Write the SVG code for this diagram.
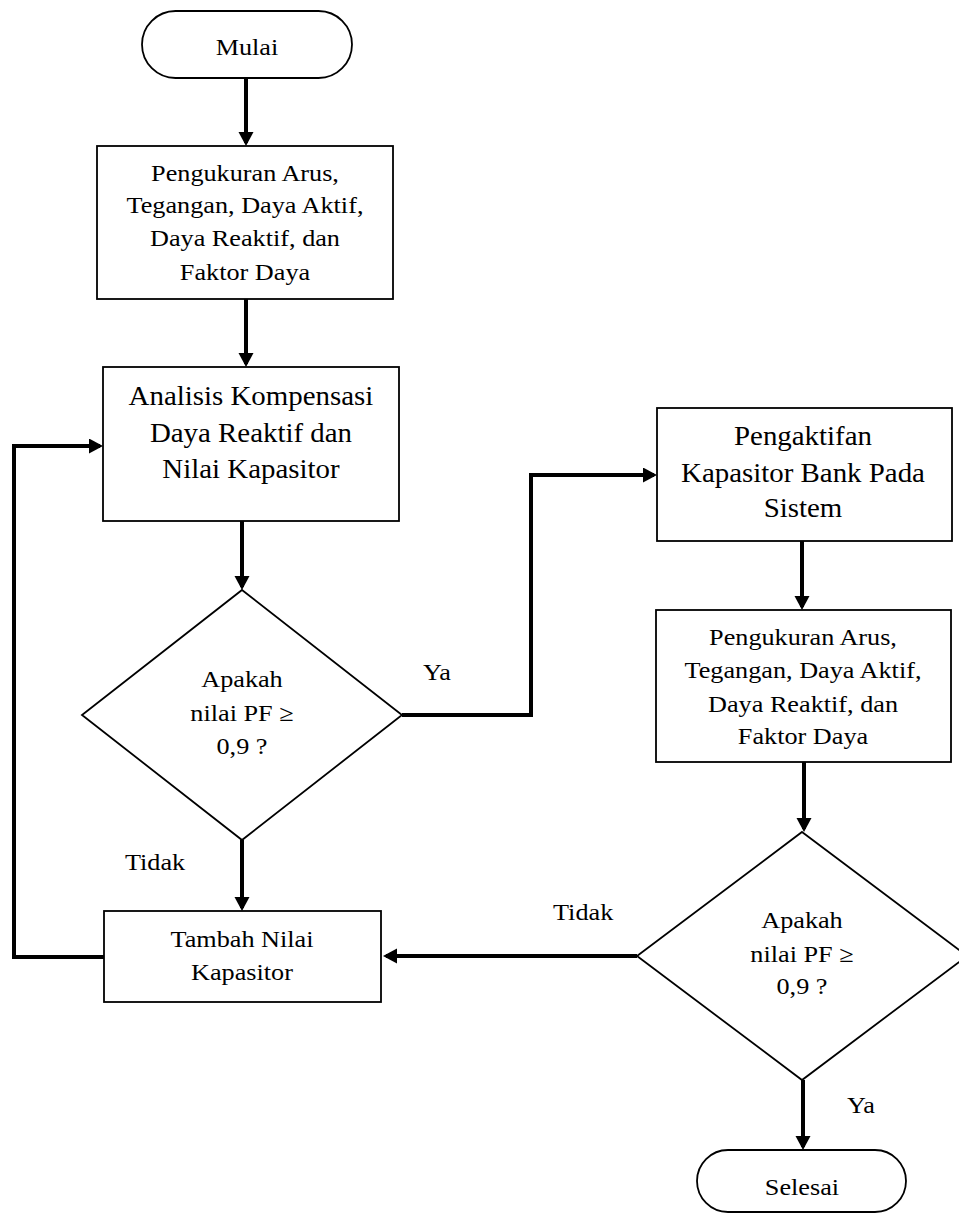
<svg xmlns="http://www.w3.org/2000/svg" width="959" height="1215" viewBox="0 0 959 1215">
<style>
.shape{fill:#fff;stroke:#000;stroke-width:1.8}
.conn{fill:none;stroke:#000;stroke-width:4}
text{font-family:"Liberation Serif","Times New Roman",serif;fill:#000;text-anchor:middle}
.s{font-size:23px}
.l{font-size:27px}
.lbl{font-size:23px;text-anchor:start}
</style>
<defs>
<marker id="ah" markerUnits="userSpaceOnUse" markerWidth="16" markerHeight="16" refX="11" refY="7.5" orient="auto">
<path d="M0,0 L14,7.5 L0,15 Z" fill="#000"/>
</marker>
</defs>
<rect width="959" height="1215" fill="#fff"/>
<g id="connectors">
<path class="conn" marker-end="url(#ah)" d="M246,78 V143"/>
<path class="conn" marker-end="url(#ah)" d="M246,299 V364"/>
<path class="conn" marker-end="url(#ah)" d="M242,521 V587"/>
<path class="conn" marker-end="url(#ah)" d="M402,715 H531 V475 H654"/>
<path class="conn" marker-end="url(#ah)" d="M802,541 V607"/>
<path class="conn" marker-end="url(#ah)" d="M804,762 V829"/>
<path class="conn" marker-end="url(#ah)" d="M637,956 H386"/>
<path class="conn" marker-end="url(#ah)" d="M242,840 V908"/>
<path class="conn" marker-end="url(#ah)" d="M104,957 H14 V446 H100"/>
<path class="conn" marker-end="url(#ah)" d="M803,1080 V1147"/>
</g>
<g id="labels">
<text class="lbl" transform="matrix(1.14,0,0,1,-59.2,0)" x="423" y="680">Ya</text>
<text class="lbl" transform="matrix(1.14,0,0,1,-17.5,0)" x="125" y="870">Tidak</text>
<text class="lbl" transform="matrix(1.14,0,0,1,-77.4,0)" x="553" y="920">Tidak</text>
<text class="lbl" transform="matrix(1.14,0,0,1,-118.6,0)" x="847" y="1113">Ya</text>
</g>
<g id="mulai">
<rect class="shape" x="142" y="11" width="210" height="67" rx="33.5"/>
<text class="s" transform="matrix(1.14,0,0,1,-34.6,0)" x="247" y="55">Mulai</text>
</g>
<g id="ukur1">
<rect class="shape" x="97" y="146" width="296" height="153"/>
<g class="s" transform="matrix(1.14,0,0,1,-34.3,0)">
<text x="245" y="181">Pengukuran Arus,</text>
<text x="245" y="213">Tegangan, Daya Aktif,</text>
<text x="245" y="246">Daya Reaktif, dan</text>
<text x="245" y="280">Faktor Daya</text>
</g>
</g>
<g id="analisis">
<rect class="shape" x="103" y="367" width="296" height="154"/>
<g class="l" transform="matrix(1.07,0,0,1,-17.6,0)">
<text x="251" y="405">Analisis Kompensasi</text>
<text x="251" y="442">Daya Reaktif dan</text>
<text x="251" y="478">Nilai Kapasitor</text>
</g>
</g>
<g id="keputusan1">
<polygon class="shape" points="242,590 402,715 242,840 82,715"/>
<g class="s" transform="matrix(1.14,0,0,1,-33.9,0)">
<text x="242" y="687">Apakah</text>
<text x="242" y="721">nilai PF ≥</text>
<text x="242" y="754">0,9 ?</text>
</g>
</g>
<g id="tambah">
<rect class="shape" x="104" y="911" width="277" height="91"/>
<g class="s" transform="matrix(1.14,0,0,1,-33.9,0)">
<text x="242" y="947">Tambah Nilai</text>
<text x="242" y="980">Kapasitor</text>
</g>
</g>
<g id="pengaktifan">
<rect class="shape" x="657" y="408" width="295" height="133"/>
<g class="l" transform="matrix(1.07,0,0,1,-56.2,0)">
<text x="803" y="445">Pengaktifan</text>
<text x="803" y="482">Kapasitor Bank Pada</text>
<text x="803" y="517">Sistem</text>
</g>
</g>
<g id="ukur2">
<rect class="shape" x="656" y="610" width="295" height="152"/>
<g class="s" transform="matrix(1.14,0,0,1,-112.4,0)">
<text x="803" y="645">Pengukuran Arus,</text>
<text x="803" y="678">Tegangan, Daya Aktif,</text>
<text x="803" y="712">Daya Reaktif, dan</text>
<text x="803" y="744">Faktor Daya</text>
</g>
</g>
<g id="keputusan2">
<polygon class="shape" points="802,832 967,956 802,1080 637,956"/>
<g class="s" transform="matrix(1.14,0,0,1,-112.3,0)">
<text x="802" y="928">Apakah</text>
<text x="802" y="962">nilai PF ≥</text>
<text x="802" y="994">0,9 ?</text>
</g>
</g>
<g id="selesai">
<rect class="shape" x="697" y="1150" width="209" height="62" rx="31"/>
<text class="s" transform="matrix(1.14,0,0,1,-112.3,0)" x="802" y="1195">Selesai</text>
</g>
</svg>
